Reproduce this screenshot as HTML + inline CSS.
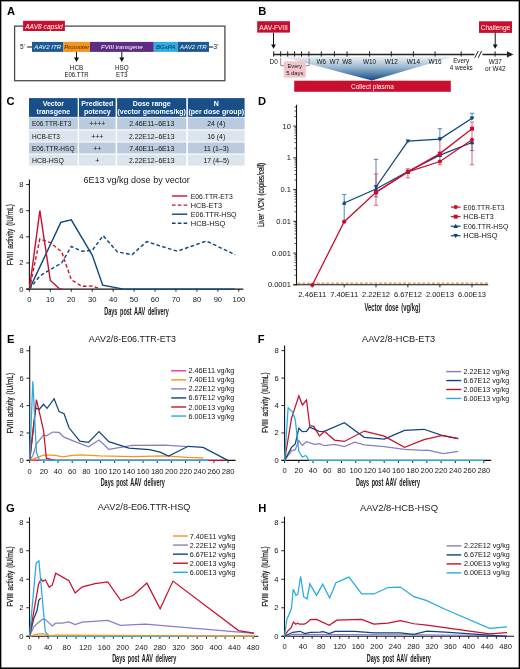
<!DOCTYPE html>
<html><head><meta charset="utf-8"><style>
html,body{margin:0;padding:0;background:#fff;}
body{width:520px;height:669px;overflow:hidden;}
svg{display:block;font-family:"Liberation Sans", sans-serif;will-change:transform;}
</style></head><body>
<svg width="520" height="669" viewBox="0 0 520 669">
<rect x="0" y="0" width="520" height="669" fill="#fff"/>
<text x="7.00" y="14.70" font-size="11.2" text-anchor="start" fill="#000" font-weight="bold" font-style="normal" >A</text>
<text x="258.20" y="14.90" font-size="11.2" text-anchor="start" fill="#000" font-weight="bold" font-style="normal" >B</text>
<text x="6.50" y="104.90" font-size="11.2" text-anchor="start" fill="#000" font-weight="bold" font-style="normal" >C</text>
<text x="258.00" y="105.10" font-size="11.2" text-anchor="start" fill="#000" font-weight="bold" font-style="normal" >D</text>
<text x="6.90" y="342.60" font-size="11.2" text-anchor="start" fill="#000" font-weight="bold" font-style="normal" >E</text>
<text x="257.80" y="342.60" font-size="11.2" text-anchor="start" fill="#000" font-weight="bold" font-style="normal" >F</text>
<text x="6.00" y="511.70" font-size="11.2" text-anchor="start" fill="#000" font-weight="bold" font-style="normal" >G</text>
<text x="258.30" y="511.70" font-size="11.2" text-anchor="start" fill="#000" font-weight="bold" font-style="normal" >H</text>
<rect x="14.6" y="26.1" width="210.3" height="54.6" fill="none" stroke="#4d4d4d" stroke-width="1.3"/>
<rect x="23.10" y="20.80" width="41.80" height="10.20" fill="#c8102e" />
<text x="44.00" y="28.60" font-size="6.6" text-anchor="middle" fill="#fff" font-weight="normal" font-style="italic" textLength="37.6" lengthAdjust="spacingAndGlyphs" >AAV8 capsid</text>
<rect x="32.00" y="41.90" width="31.40" height="10.00" fill="#1d5a94" />
<text x="47.70" y="49.30" font-size="6.1" text-anchor="middle" fill="#fff" font-weight="normal" font-style="italic" >AAV2 ITR</text>
<rect x="63.40" y="41.90" width="26.60" height="10.00" fill="#f7941d" />
<text x="76.70" y="49.30" font-size="6.1" text-anchor="middle" fill="#3a2a10" font-weight="normal" font-style="italic" >Promoter</text>
<rect x="90.00" y="41.90" width="63.80" height="10.00" fill="#5c2d82" />
<text x="121.90" y="49.30" font-size="6.1" text-anchor="middle" fill="#fff" font-weight="normal" font-style="italic" >FVIII transgene</text>
<rect x="153.80" y="41.90" width="23.90" height="10.00" fill="#2eaee3" />
<text x="165.75" y="49.30" font-size="6.1" text-anchor="middle" fill="#0c2a48" font-weight="normal" font-style="italic" >BGsPA</text>
<rect x="177.70" y="41.90" width="31.30" height="10.00" fill="#1d5a94" />
<text x="193.35" y="49.30" font-size="6.1" text-anchor="middle" fill="#fff" font-weight="normal" font-style="italic" >AAV2 ITR</text>
<line x1="27.20" y1="47.00" x2="32.00" y2="47.00" stroke="#333" stroke-width="1.2" />
<line x1="209.00" y1="47.00" x2="213.30" y2="47.00" stroke="#333" stroke-width="1.2" />
<text x="20.00" y="49.30" font-size="6.4" text-anchor="start" fill="#141414" font-weight="normal" font-style="normal" >5'</text>
<text x="213.60" y="49.30" font-size="6.4" text-anchor="start" fill="#141414" font-weight="normal" font-style="normal" >3'</text>
<line x1="76.50" y1="52.00" x2="76.50" y2="58.50" stroke="#111" stroke-width="1" />
<polygon points="74.00,57.6 79.00,57.6 76.50,62" fill="#111"/>
<line x1="121.80" y1="52.00" x2="121.80" y2="58.50" stroke="#111" stroke-width="1" />
<polygon points="119.30,57.6 124.30,57.6 121.80,62" fill="#111"/>
<text x="76.50" y="69.60" font-size="6.3" text-anchor="middle" fill="#141414" font-weight="normal" font-style="normal" >HCB</text>
<text x="76.50" y="76.60" font-size="6.3" text-anchor="middle" fill="#141414" font-weight="normal" font-style="normal" textLength="23.9" lengthAdjust="spacingAndGlyphs" >E06.TTR</text>
<text x="121.80" y="69.60" font-size="6.3" text-anchor="middle" fill="#141414" font-weight="normal" font-style="normal" >HSQ</text>
<text x="121.80" y="76.60" font-size="6.3" text-anchor="middle" fill="#141414" font-weight="normal" font-style="normal" >ET3</text>
<defs><linearGradient id="tri" x1="0" y1="0" x2="0" y2="1"><stop offset="0" stop-color="#eef3f8"/><stop offset="0.45" stop-color="#9ab8d2"/><stop offset="1" stop-color="#0d4a82"/></linearGradient></defs>
<polygon points="281,56.4 454,56.4 372,80.6" fill="url(#tri)"/>
<rect x="257.20" y="21.20" width="32.80" height="11.40" fill="#c8102e" />
<text x="273.60" y="29.50" font-size="6.6" text-anchor="middle" fill="#fff" font-weight="normal" font-style="normal" textLength="28.5" lengthAdjust="spacingAndGlyphs" >AAV-FVIII</text>
<rect x="479.00" y="21.30" width="33.00" height="11.60" fill="#c8102e" />
<text x="495.50" y="29.60" font-size="6.8" text-anchor="middle" fill="#fff" font-weight="normal" font-style="normal" textLength="29.5" lengthAdjust="spacingAndGlyphs" >Challenge</text>
<line x1="273.50" y1="32.60" x2="273.50" y2="45.00" stroke="#111" stroke-width="1" />
<polygon points="271.10,44.5 275.90,44.5 273.50,48.8" fill="#111"/>
<line x1="495.20" y1="32.60" x2="495.20" y2="45.00" stroke="#111" stroke-width="1" />
<polygon points="492.80,44.5 497.60,44.5 495.20,48.8" fill="#111"/>
<line x1="273.00" y1="54.40" x2="508.00" y2="54.40" stroke="#222" stroke-width="1.5" />
<polygon points="507,51.2 513.5,54.4 507,57.6" fill="#222"/>
<rect x="474.50" y="50.00" width="8.00" height="9.00" fill="#fff" />
<line x1="474.80" y1="57.80" x2="478.20" y2="51.00" stroke="#222" stroke-width="1" />
<line x1="478.20" y1="57.80" x2="481.60" y2="51.00" stroke="#222" stroke-width="1" />
<line x1="273.70" y1="51.30" x2="273.70" y2="56.60" stroke="#222" stroke-width="1" />
<line x1="280.70" y1="51.30" x2="280.70" y2="56.60" stroke="#222" stroke-width="1" />
<line x1="287.70" y1="51.30" x2="287.70" y2="56.60" stroke="#222" stroke-width="1" />
<line x1="294.60" y1="51.30" x2="294.60" y2="56.60" stroke="#222" stroke-width="1" />
<line x1="301.50" y1="51.30" x2="301.50" y2="56.60" stroke="#222" stroke-width="1" />
<line x1="308.90" y1="51.30" x2="308.90" y2="56.60" stroke="#222" stroke-width="1" />
<line x1="321.30" y1="51.30" x2="321.30" y2="56.60" stroke="#222" stroke-width="1" />
<line x1="334.40" y1="51.30" x2="334.40" y2="56.60" stroke="#222" stroke-width="1" />
<line x1="347.10" y1="51.30" x2="347.10" y2="56.60" stroke="#222" stroke-width="1" />
<line x1="369.60" y1="51.30" x2="369.60" y2="56.60" stroke="#222" stroke-width="1" />
<line x1="391.30" y1="51.30" x2="391.30" y2="56.60" stroke="#222" stroke-width="1" />
<line x1="413.40" y1="51.30" x2="413.40" y2="56.60" stroke="#222" stroke-width="1" />
<line x1="435.10" y1="51.30" x2="435.10" y2="56.60" stroke="#222" stroke-width="1" />
<line x1="461.20" y1="51.30" x2="461.20" y2="56.60" stroke="#222" stroke-width="1" />
<line x1="495.10" y1="51.30" x2="495.10" y2="56.60" stroke="#222" stroke-width="1" />
<text x="273.70" y="63.50" font-size="6.4" text-anchor="middle" fill="#141414" font-weight="normal" font-style="normal" >D0</text>
<text x="321.30" y="63.50" font-size="6.4" text-anchor="middle" fill="#141414" font-weight="normal" font-style="normal" >W6</text>
<text x="334.40" y="63.50" font-size="6.4" text-anchor="middle" fill="#141414" font-weight="normal" font-style="normal" >W7</text>
<text x="347.10" y="63.50" font-size="6.4" text-anchor="middle" fill="#141414" font-weight="normal" font-style="normal" >W8</text>
<text x="369.60" y="63.50" font-size="6.4" text-anchor="middle" fill="#141414" font-weight="normal" font-style="normal" >W10</text>
<text x="391.30" y="63.50" font-size="6.4" text-anchor="middle" fill="#141414" font-weight="normal" font-style="normal" >W12</text>
<text x="413.40" y="63.50" font-size="6.4" text-anchor="middle" fill="#141414" font-weight="normal" font-style="normal" >W14</text>
<text x="435.10" y="63.50" font-size="6.4" text-anchor="middle" fill="#141414" font-weight="normal" font-style="normal" >W16</text>
<text x="461.20" y="62.60" font-size="6.3" text-anchor="middle" fill="#141414" font-weight="normal" font-style="normal" >Every</text>
<text x="461.20" y="69.60" font-size="6.3" text-anchor="middle" fill="#141414" font-weight="normal" font-style="normal" >4 weeks</text>
<text x="495.30" y="63.60" font-size="6.4" text-anchor="middle" fill="#141414" font-weight="normal" font-style="normal" >W37</text>
<text x="495.30" y="70.50" font-size="6.4" text-anchor="middle" fill="#141414" font-weight="normal" font-style="normal" >or W42</text>
<path d="M280.7,58 V65.6 H309.2 V58" fill="none" stroke="#8c8c8c" stroke-width="1"/>
<rect x="283.80" y="61.30" width="22.00" height="16.40" fill="#f2c5cb" />
<text x="294.80" y="67.90" font-size="6.1" text-anchor="middle" fill="#141414" font-weight="normal" font-style="normal" textLength="14.4" lengthAdjust="spacingAndGlyphs" >Every</text>
<text x="294.80" y="75.10" font-size="6.1" text-anchor="middle" fill="#141414" font-weight="normal" font-style="normal" textLength="17.3" lengthAdjust="spacingAndGlyphs" >5 days</text>
<rect x="294.20" y="80.70" width="156.60" height="11.10" fill="#c8102e" />
<text x="372.40" y="89.00" font-size="7.4" text-anchor="middle" fill="#fff" font-weight="normal" font-style="normal" textLength="42.7" lengthAdjust="spacingAndGlyphs" >Collect plasma</text>
<rect x="29.00" y="98.10" width="48.70" height="18.80" fill="#184f88" />
<rect x="79.00" y="98.10" width="36.60" height="18.80" fill="#184f88" />
<rect x="117.10" y="98.10" width="69.20" height="18.80" fill="#184f88" />
<rect x="187.90" y="98.10" width="56.70" height="18.80" fill="#184f88" />
<rect x="29.00" y="117.50" width="48.70" height="11.80" fill="#b9cbdc" />
<rect x="79.00" y="117.50" width="36.60" height="11.80" fill="#b9cbdc" />
<rect x="117.10" y="117.50" width="69.20" height="11.80" fill="#b9cbdc" />
<rect x="187.90" y="117.50" width="56.70" height="11.80" fill="#b9cbdc" />
<rect x="29.00" y="130.40" width="48.70" height="11.10" fill="#dce5ee" />
<rect x="79.00" y="130.40" width="36.60" height="11.10" fill="#dce5ee" />
<rect x="117.10" y="130.40" width="69.20" height="11.10" fill="#dce5ee" />
<rect x="187.90" y="130.40" width="56.70" height="11.10" fill="#dce5ee" />
<rect x="29.00" y="142.50" width="48.70" height="11.00" fill="#b9cbdc" />
<rect x="79.00" y="142.50" width="36.60" height="11.00" fill="#b9cbdc" />
<rect x="117.10" y="142.50" width="69.20" height="11.00" fill="#b9cbdc" />
<rect x="187.90" y="142.50" width="56.70" height="11.00" fill="#b9cbdc" />
<rect x="29.00" y="154.60" width="48.70" height="11.00" fill="#dce5ee" />
<rect x="79.00" y="154.60" width="36.60" height="11.00" fill="#dce5ee" />
<rect x="117.10" y="154.60" width="69.20" height="11.00" fill="#dce5ee" />
<rect x="187.90" y="154.60" width="56.70" height="11.00" fill="#dce5ee" />
<text x="53.35" y="106.20" font-size="7" text-anchor="middle" fill="#fff" font-weight="bold" font-style="normal" >Vector</text>
<text x="53.35" y="114.30" font-size="7" text-anchor="middle" fill="#fff" font-weight="bold" font-style="normal" >transgene</text>
<text x="97.30" y="106.20" font-size="7" text-anchor="middle" fill="#fff" font-weight="bold" font-style="normal" >Predicted</text>
<text x="97.30" y="114.30" font-size="7" text-anchor="middle" fill="#fff" font-weight="bold" font-style="normal" >potency</text>
<text x="151.70" y="106.20" font-size="7" text-anchor="middle" fill="#fff" font-weight="bold" font-style="normal" >Dose range</text>
<text x="151.70" y="114.30" font-size="7" text-anchor="middle" fill="#fff" font-weight="bold" font-style="normal" >(vector genomes/kg)</text>
<text x="216.25" y="106.20" font-size="7" text-anchor="middle" fill="#fff" font-weight="bold" font-style="normal" >N</text>
<text x="216.25" y="114.30" font-size="7" text-anchor="middle" fill="#fff" font-weight="bold" font-style="normal" >(per dose group)</text>
<text x="32.00" y="126.00" font-size="7.0" text-anchor="start" fill="#141414" font-weight="normal" font-style="normal" textLength="39.3" lengthAdjust="spacingAndGlyphs" >E06.TTR-ET3</text>
<text x="97.30" y="126.00" font-size="6.9" text-anchor="middle" fill="#141414" font-weight="normal" font-style="normal" >++++</text>
<text x="151.70" y="126.00" font-size="6.9" text-anchor="middle" fill="#141414" font-weight="normal" font-style="normal" >2.46E11–6E13</text>
<text x="216.25" y="126.00" font-size="6.9" text-anchor="middle" fill="#141414" font-weight="normal" font-style="normal" >24 (4)</text>
<text x="32.00" y="138.55" font-size="7.0" text-anchor="start" fill="#141414" font-weight="normal" font-style="normal" textLength="28" lengthAdjust="spacingAndGlyphs" >HCB-ET3</text>
<text x="97.30" y="138.55" font-size="6.9" text-anchor="middle" fill="#141414" font-weight="normal" font-style="normal" >+++</text>
<text x="151.70" y="138.55" font-size="6.9" text-anchor="middle" fill="#141414" font-weight="normal" font-style="normal" >2.22E12–6E13</text>
<text x="216.25" y="138.55" font-size="6.9" text-anchor="middle" fill="#141414" font-weight="normal" font-style="normal" >16 (4)</text>
<text x="32.00" y="150.60" font-size="7.0" text-anchor="start" fill="#141414" font-weight="normal" font-style="normal" textLength="42.5" lengthAdjust="spacingAndGlyphs" >E06.TTR-HSQ</text>
<text x="97.30" y="150.60" font-size="6.9" text-anchor="middle" fill="#141414" font-weight="normal" font-style="normal" >++</text>
<text x="151.70" y="150.60" font-size="6.9" text-anchor="middle" fill="#141414" font-weight="normal" font-style="normal" >7.40E11–6E13</text>
<text x="216.25" y="150.60" font-size="6.9" text-anchor="middle" fill="#141414" font-weight="normal" font-style="normal" >11 (1–3)</text>
<text x="32.00" y="162.70" font-size="7.0" text-anchor="start" fill="#141414" font-weight="normal" font-style="normal" textLength="31.8" lengthAdjust="spacingAndGlyphs" >HCB-HSQ</text>
<text x="97.30" y="162.70" font-size="6.9" text-anchor="middle" fill="#141414" font-weight="normal" font-style="normal" >+</text>
<text x="151.70" y="162.70" font-size="6.9" text-anchor="middle" fill="#141414" font-weight="normal" font-style="normal" >2.22E12–6E13</text>
<text x="216.25" y="162.70" font-size="6.9" text-anchor="middle" fill="#141414" font-weight="normal" font-style="normal" >17 (4–5)</text>
<line x1="29.40" y1="179.50" x2="29.40" y2="289.60" stroke="#111" stroke-width="1.1" />
<line x1="26.20" y1="289.10" x2="243.30" y2="289.10" stroke="#111" stroke-width="1.1" />
<line x1="29.40" y1="289.10" x2="29.40" y2="291.70" stroke="#111" stroke-width="0.9" />
<text x="29.40" y="302.10" font-size="7.6" text-anchor="middle" fill="#141414" font-weight="normal" font-style="normal" >0</text>
<line x1="50.34" y1="289.10" x2="50.34" y2="291.70" stroke="#111" stroke-width="0.9" />
<text x="50.34" y="302.10" font-size="7.6" text-anchor="middle" fill="#141414" font-weight="normal" font-style="normal" >10</text>
<line x1="71.28" y1="289.10" x2="71.28" y2="291.70" stroke="#111" stroke-width="0.9" />
<text x="71.28" y="302.10" font-size="7.6" text-anchor="middle" fill="#141414" font-weight="normal" font-style="normal" >20</text>
<line x1="92.22" y1="289.10" x2="92.22" y2="291.70" stroke="#111" stroke-width="0.9" />
<text x="92.22" y="302.10" font-size="7.6" text-anchor="middle" fill="#141414" font-weight="normal" font-style="normal" >30</text>
<line x1="113.16" y1="289.10" x2="113.16" y2="291.70" stroke="#111" stroke-width="0.9" />
<text x="113.16" y="302.10" font-size="7.6" text-anchor="middle" fill="#141414" font-weight="normal" font-style="normal" >40</text>
<line x1="134.10" y1="289.10" x2="134.10" y2="291.70" stroke="#111" stroke-width="0.9" />
<text x="134.10" y="302.10" font-size="7.6" text-anchor="middle" fill="#141414" font-weight="normal" font-style="normal" >50</text>
<line x1="155.04" y1="289.10" x2="155.04" y2="291.70" stroke="#111" stroke-width="0.9" />
<text x="155.04" y="302.10" font-size="7.6" text-anchor="middle" fill="#141414" font-weight="normal" font-style="normal" >60</text>
<line x1="175.98" y1="289.10" x2="175.98" y2="291.70" stroke="#111" stroke-width="0.9" />
<text x="175.98" y="302.10" font-size="7.6" text-anchor="middle" fill="#141414" font-weight="normal" font-style="normal" >70</text>
<line x1="196.92" y1="289.10" x2="196.92" y2="291.70" stroke="#111" stroke-width="0.9" />
<text x="196.92" y="302.10" font-size="7.6" text-anchor="middle" fill="#141414" font-weight="normal" font-style="normal" >80</text>
<line x1="217.86" y1="289.10" x2="217.86" y2="291.70" stroke="#111" stroke-width="0.9" />
<text x="217.86" y="302.10" font-size="7.6" text-anchor="middle" fill="#141414" font-weight="normal" font-style="normal" >90</text>
<line x1="238.80" y1="289.10" x2="238.80" y2="291.70" stroke="#111" stroke-width="0.9" />
<text x="238.80" y="302.10" font-size="7.6" text-anchor="middle" fill="#141414" font-weight="normal" font-style="normal" >100</text>
<line x1="26.20" y1="289.10" x2="29.40" y2="289.10" stroke="#111" stroke-width="0.9" />
<text x="23.50" y="291.60" font-size="7.6" text-anchor="end" fill="#141414" font-weight="normal" font-style="normal" >0</text>
<line x1="26.20" y1="262.96" x2="29.40" y2="262.96" stroke="#111" stroke-width="0.9" />
<text x="23.50" y="265.46" font-size="7.6" text-anchor="end" fill="#141414" font-weight="normal" font-style="normal" >2</text>
<line x1="26.20" y1="236.82" x2="29.40" y2="236.82" stroke="#111" stroke-width="0.9" />
<text x="23.50" y="239.32" font-size="7.6" text-anchor="end" fill="#141414" font-weight="normal" font-style="normal" >4</text>
<line x1="26.20" y1="210.68" x2="29.40" y2="210.68" stroke="#111" stroke-width="0.9" />
<text x="23.50" y="213.18" font-size="7.6" text-anchor="end" fill="#141414" font-weight="normal" font-style="normal" >6</text>
<line x1="26.20" y1="184.54" x2="29.40" y2="184.54" stroke="#111" stroke-width="0.9" />
<text x="23.50" y="187.04" font-size="7.6" text-anchor="end" fill="#141414" font-weight="normal" font-style="normal" >8</text>
<text x="136.60" y="182.60" font-size="9" text-anchor="middle" fill="#222" font-weight="normal" font-style="normal" textLength="106.3" lengthAdjust="spacingAndGlyphs" >6E13 vg/kg dose by vector</text>
<text transform="translate(13.20,234.70) rotate(-90) scale(0.7102,1)" x="0" y="0" font-size="9.2" word-spacing="1.5" text-anchor="middle" fill="#1a1a1a" stroke="#1a1a1a" stroke-width="0.22">FVIII activity (IU/mL)</text>
<text transform="translate(136.50,315.40) scale(0.5411,1)" x="0" y="0" font-size="10.2" font-weight="bold" word-spacing="2.0" text-anchor="middle" fill="#1a1a1a">Days post AAV delivery</text>
<polyline points="29.40,289.10 39.87,276.03 50.34,269.50 61.65,262.96 71.28,246.49 81.75,251.20 92.22,250.41 103.11,235.64 117.35,251.85 132.01,254.73 146.66,241.66 177.24,251.20 206.34,241.00 235.24,254.73" fill="none" stroke="#0d467d" stroke-width="1.4" stroke-linejoin="miter" stroke-miterlimit="3" stroke-dasharray="3.6,2.4"/>
<polyline points="29.40,289.10 60.81,222.44 71.28,219.83 92.22,255.12 102.69,285.18 123.63,289.10 234.61,289.10" fill="none" stroke="#0d467d" stroke-width="1.4" stroke-linejoin="miter" stroke-miterlimit="3" />
<polyline points="29.40,289.10 39.87,238.91 50.34,242.70 61.65,251.72 71.28,279.69 81.75,286.36 92.22,285.96 100.60,289.10" fill="none" stroke="#c8102e" stroke-width="1.4" stroke-linejoin="miter" stroke-miterlimit="3" stroke-dasharray="3.6,2.4"/>
<polyline points="29.40,289.10 39.87,210.68 50.34,280.47 59.76,289.10 62.90,289.10" fill="none" stroke="#c8102e" stroke-width="1.4" stroke-linejoin="miter" stroke-miterlimit="3" />
<line x1="172.00" y1="196.00" x2="187.30" y2="196.00" stroke="#c8102e" stroke-width="1.4" />
<text x="190.80" y="198.70" font-size="7.5" text-anchor="start" fill="#141414" font-weight="normal" font-style="normal" textLength="41.9" lengthAdjust="spacingAndGlyphs" >E06.TTR-ET3</text>
<line x1="172.00" y1="205.10" x2="187.30" y2="205.10" stroke="#c8102e" stroke-width="1.4" stroke-dasharray="3.6,2.2"/>
<text x="190.80" y="207.80" font-size="7.5" text-anchor="start" fill="#141414" font-weight="normal" font-style="normal" textLength="31.2" lengthAdjust="spacingAndGlyphs" >HCB-ET3</text>
<line x1="172.00" y1="214.20" x2="187.30" y2="214.20" stroke="#0d467d" stroke-width="1.4" />
<text x="190.80" y="216.90" font-size="7.5" text-anchor="start" fill="#141414" font-weight="normal" font-style="normal" textLength="45.8" lengthAdjust="spacingAndGlyphs" >E06.TTR-HSQ</text>
<line x1="172.00" y1="223.30" x2="187.30" y2="223.30" stroke="#0d467d" stroke-width="1.4" stroke-dasharray="3.6,2.2"/>
<text x="190.80" y="226.00" font-size="7.5" text-anchor="start" fill="#141414" font-weight="normal" font-style="normal" textLength="34.6" lengthAdjust="spacingAndGlyphs" >HCB-HSQ</text>
<line x1="296.50" y1="104.80" x2="296.50" y2="285.30" stroke="#111" stroke-width="1.1" />
<line x1="293.50" y1="284.80" x2="488.20" y2="284.80" stroke="#111" stroke-width="1.1" />
<line x1="293.30" y1="126.10" x2="296.50" y2="126.10" stroke="#111" stroke-width="0.9" />
<text x="290.90" y="128.70" font-size="7.5" text-anchor="end" fill="#111" font-weight="normal" font-style="normal" >10</text>
<line x1="293.30" y1="157.84" x2="296.50" y2="157.84" stroke="#111" stroke-width="0.9" />
<text x="290.90" y="160.44" font-size="7.5" text-anchor="end" fill="#111" font-weight="normal" font-style="normal" >1</text>
<line x1="293.30" y1="189.58" x2="296.50" y2="189.58" stroke="#111" stroke-width="0.9" />
<text x="290.90" y="192.18" font-size="7.5" text-anchor="end" fill="#111" font-weight="normal" font-style="normal" >0.1</text>
<line x1="293.30" y1="221.32" x2="296.50" y2="221.32" stroke="#111" stroke-width="0.9" />
<text x="290.90" y="223.92" font-size="7.5" text-anchor="end" fill="#111" font-weight="normal" font-style="normal" >0.01</text>
<line x1="293.30" y1="253.06" x2="296.50" y2="253.06" stroke="#111" stroke-width="0.9" />
<text x="290.90" y="255.66" font-size="7.5" text-anchor="end" fill="#111" font-weight="normal" font-style="normal" >0.001</text>
<line x1="293.30" y1="284.80" x2="296.50" y2="284.80" stroke="#111" stroke-width="0.9" />
<text x="290.90" y="287.40" font-size="7.5" text-anchor="end" fill="#111" font-weight="normal" font-style="normal" >0.0001</text>
<line x1="294.50" y1="275.25" x2="296.50" y2="275.25" stroke="#111" stroke-width="0.7" />
<line x1="294.50" y1="269.66" x2="296.50" y2="269.66" stroke="#111" stroke-width="0.7" />
<line x1="294.50" y1="265.69" x2="296.50" y2="265.69" stroke="#111" stroke-width="0.7" />
<line x1="294.50" y1="262.61" x2="296.50" y2="262.61" stroke="#111" stroke-width="0.7" />
<line x1="294.50" y1="260.10" x2="296.50" y2="260.10" stroke="#111" stroke-width="0.7" />
<line x1="294.50" y1="257.98" x2="296.50" y2="257.98" stroke="#111" stroke-width="0.7" />
<line x1="294.50" y1="256.14" x2="296.50" y2="256.14" stroke="#111" stroke-width="0.7" />
<line x1="294.50" y1="254.51" x2="296.50" y2="254.51" stroke="#111" stroke-width="0.7" />
<line x1="294.50" y1="243.51" x2="296.50" y2="243.51" stroke="#111" stroke-width="0.7" />
<line x1="294.50" y1="237.92" x2="296.50" y2="237.92" stroke="#111" stroke-width="0.7" />
<line x1="294.50" y1="233.95" x2="296.50" y2="233.95" stroke="#111" stroke-width="0.7" />
<line x1="294.50" y1="230.87" x2="296.50" y2="230.87" stroke="#111" stroke-width="0.7" />
<line x1="294.50" y1="228.36" x2="296.50" y2="228.36" stroke="#111" stroke-width="0.7" />
<line x1="294.50" y1="226.24" x2="296.50" y2="226.24" stroke="#111" stroke-width="0.7" />
<line x1="294.50" y1="224.40" x2="296.50" y2="224.40" stroke="#111" stroke-width="0.7" />
<line x1="294.50" y1="222.77" x2="296.50" y2="222.77" stroke="#111" stroke-width="0.7" />
<line x1="294.50" y1="211.77" x2="296.50" y2="211.77" stroke="#111" stroke-width="0.7" />
<line x1="294.50" y1="206.18" x2="296.50" y2="206.18" stroke="#111" stroke-width="0.7" />
<line x1="294.50" y1="202.21" x2="296.50" y2="202.21" stroke="#111" stroke-width="0.7" />
<line x1="294.50" y1="199.13" x2="296.50" y2="199.13" stroke="#111" stroke-width="0.7" />
<line x1="294.50" y1="196.62" x2="296.50" y2="196.62" stroke="#111" stroke-width="0.7" />
<line x1="294.50" y1="194.50" x2="296.50" y2="194.50" stroke="#111" stroke-width="0.7" />
<line x1="294.50" y1="192.66" x2="296.50" y2="192.66" stroke="#111" stroke-width="0.7" />
<line x1="294.50" y1="191.03" x2="296.50" y2="191.03" stroke="#111" stroke-width="0.7" />
<line x1="294.50" y1="180.03" x2="296.50" y2="180.03" stroke="#111" stroke-width="0.7" />
<line x1="294.50" y1="174.44" x2="296.50" y2="174.44" stroke="#111" stroke-width="0.7" />
<line x1="294.50" y1="170.47" x2="296.50" y2="170.47" stroke="#111" stroke-width="0.7" />
<line x1="294.50" y1="167.39" x2="296.50" y2="167.39" stroke="#111" stroke-width="0.7" />
<line x1="294.50" y1="164.88" x2="296.50" y2="164.88" stroke="#111" stroke-width="0.7" />
<line x1="294.50" y1="162.76" x2="296.50" y2="162.76" stroke="#111" stroke-width="0.7" />
<line x1="294.50" y1="160.92" x2="296.50" y2="160.92" stroke="#111" stroke-width="0.7" />
<line x1="294.50" y1="159.29" x2="296.50" y2="159.29" stroke="#111" stroke-width="0.7" />
<line x1="294.50" y1="148.29" x2="296.50" y2="148.29" stroke="#111" stroke-width="0.7" />
<line x1="294.50" y1="142.70" x2="296.50" y2="142.70" stroke="#111" stroke-width="0.7" />
<line x1="294.50" y1="138.73" x2="296.50" y2="138.73" stroke="#111" stroke-width="0.7" />
<line x1="294.50" y1="135.65" x2="296.50" y2="135.65" stroke="#111" stroke-width="0.7" />
<line x1="294.50" y1="133.14" x2="296.50" y2="133.14" stroke="#111" stroke-width="0.7" />
<line x1="294.50" y1="131.02" x2="296.50" y2="131.02" stroke="#111" stroke-width="0.7" />
<line x1="294.50" y1="129.18" x2="296.50" y2="129.18" stroke="#111" stroke-width="0.7" />
<line x1="294.50" y1="127.55" x2="296.50" y2="127.55" stroke="#111" stroke-width="0.7" />
<line x1="294.50" y1="116.55" x2="296.50" y2="116.55" stroke="#111" stroke-width="0.7" />
<line x1="294.50" y1="110.96" x2="296.50" y2="110.96" stroke="#111" stroke-width="0.7" />
<line x1="294.50" y1="106.99" x2="296.50" y2="106.99" stroke="#111" stroke-width="0.7" />
<line x1="312.30" y1="284.80" x2="312.30" y2="287.40" stroke="#111" stroke-width="0.9" />
<text x="312.30" y="296.90" font-size="7.1" text-anchor="middle" fill="#141414" font-weight="normal" font-style="normal" textLength="28" lengthAdjust="spacingAndGlyphs" >2.46E11</text>
<line x1="344.20" y1="284.80" x2="344.20" y2="287.40" stroke="#111" stroke-width="0.9" />
<text x="344.20" y="296.90" font-size="7.1" text-anchor="middle" fill="#141414" font-weight="normal" font-style="normal" textLength="28" lengthAdjust="spacingAndGlyphs" >7.40E11</text>
<line x1="376.00" y1="284.80" x2="376.00" y2="287.40" stroke="#111" stroke-width="0.9" />
<text x="376.00" y="296.90" font-size="7.1" text-anchor="middle" fill="#141414" font-weight="normal" font-style="normal" textLength="28" lengthAdjust="spacingAndGlyphs" >2.22E12</text>
<line x1="407.90" y1="284.80" x2="407.90" y2="287.40" stroke="#111" stroke-width="0.9" />
<text x="407.90" y="296.90" font-size="7.1" text-anchor="middle" fill="#141414" font-weight="normal" font-style="normal" textLength="28" lengthAdjust="spacingAndGlyphs" >6.67E12</text>
<line x1="439.90" y1="284.80" x2="439.90" y2="287.40" stroke="#111" stroke-width="0.9" />
<text x="439.90" y="296.90" font-size="7.1" text-anchor="middle" fill="#141414" font-weight="normal" font-style="normal" textLength="28" lengthAdjust="spacingAndGlyphs" >2.00E13</text>
<line x1="472.00" y1="284.80" x2="472.00" y2="287.40" stroke="#111" stroke-width="0.9" />
<text x="472.00" y="296.90" font-size="7.1" text-anchor="middle" fill="#141414" font-weight="normal" font-style="normal" textLength="28" lengthAdjust="spacingAndGlyphs" >6.00E13</text>
<line x1="297.50" y1="283.20" x2="488.00" y2="283.20" stroke="#e3a56b" stroke-width="1.6" stroke-dasharray="3,1.8"/>
<text transform="translate(264.20,195.00) rotate(-90) scale(0.6649,1)" x="0" y="0" font-size="9.2" word-spacing="1.5" text-anchor="middle" fill="#1a1a1a" stroke="#1a1a1a" stroke-width="0.22">Liver VCN (copies/cell)</text>
<text transform="translate(392.40,310.60) scale(0.5763,1)" x="0" y="0" font-size="10.1" font-weight="bold" word-spacing="2.0" text-anchor="middle" fill="#1a1a1a">Vector dose (vg/kg)</text>
<g stroke="#3a6fa5" stroke-width="1" opacity="0.85"><line x1="344.2" y1="194.4" x2="344.2" y2="221.7"/><line x1="342.0" y1="194.4" x2="346.4" y2="194.4"/><line x1="342.0" y1="221.7" x2="346.4" y2="221.7"/></g>
<g stroke="#3a6fa5" stroke-width="1" opacity="0.85"><line x1="376.0" y1="159.4" x2="376.0" y2="196.8"/><line x1="373.8" y1="159.4" x2="378.2" y2="159.4"/><line x1="373.8" y1="196.8" x2="378.2" y2="196.8"/></g>
<g stroke="#d24a64" stroke-width="1" opacity="0.85"><line x1="376.0" y1="174.0" x2="376.0" y2="205.3"/><line x1="373.8" y1="174.0" x2="378.2" y2="174.0"/><line x1="373.8" y1="205.3" x2="378.2" y2="205.3"/></g>
<g stroke="#d24a64" stroke-width="1" opacity="0.85"><line x1="407.9" y1="168.8" x2="407.9" y2="177.8"/><line x1="405.7" y1="168.8" x2="410.09999999999997" y2="168.8"/><line x1="405.7" y1="177.8" x2="410.09999999999997" y2="177.8"/></g>
<g stroke="#3a6fa5" stroke-width="1" opacity="0.85"><line x1="439.9" y1="128.7" x2="439.9" y2="139.5"/><line x1="437.7" y1="128.7" x2="442.09999999999997" y2="128.7"/><line x1="437.7" y1="139.5" x2="442.09999999999997" y2="139.5"/></g>
<g stroke="#d24a64" stroke-width="1" opacity="0.85"><line x1="439.9" y1="139.6" x2="439.9" y2="164.8"/><line x1="437.7" y1="139.6" x2="442.09999999999997" y2="139.6"/><line x1="437.7" y1="164.8" x2="442.09999999999997" y2="164.8"/></g>
<g stroke="#3a6fa5" stroke-width="1" opacity="0.85"><line x1="472.0" y1="113.3" x2="472.0" y2="118.3"/><line x1="469.8" y1="113.3" x2="474.2" y2="113.3"/><line x1="469.8" y1="118.3" x2="474.2" y2="118.3"/></g>
<g stroke="#3a6fa5" stroke-width="1" opacity="0.85"><line x1="472.0" y1="142.2" x2="472.0" y2="150.6"/><line x1="469.8" y1="142.2" x2="474.2" y2="142.2"/><line x1="469.8" y1="150.6" x2="474.2" y2="150.6"/></g>
<g stroke="#d24a64" stroke-width="1" opacity="0.85"><line x1="472.0" y1="122.1" x2="472.0" y2="164.8"/><line x1="469.8" y1="122.1" x2="474.2" y2="122.1"/><line x1="469.8" y1="164.8" x2="474.2" y2="164.8"/></g>
<polyline points="344.20,203.00 376.00,189.00 407.90,171.50 439.90,155.20 472.00,142.50" fill="none" stroke="#0d467d" stroke-width="1.3" stroke-linejoin="miter" stroke-miterlimit="3" />
<polygon points="341.90,204.80 346.50,204.80 344.20,200.60" fill="#0d467d"/>
<polygon points="373.70,190.80 378.30,190.80 376.00,186.60" fill="#0d467d"/>
<polygon points="405.60,173.30 410.20,173.30 407.90,169.10" fill="#0d467d"/>
<polygon points="437.60,157.00 442.20,157.00 439.90,152.80" fill="#0d467d"/>
<polygon points="469.70,144.30 474.30,144.30 472.00,140.10" fill="#0d467d"/>
<polyline points="376.00,187.00 407.90,141.20 439.90,139.10 472.00,118.30" fill="none" stroke="#0d467d" stroke-width="1.3" stroke-linejoin="miter" stroke-miterlimit="3" />
<polygon points="373.70,185.20 378.30,185.20 376.00,189.40" fill="#0d467d"/>
<polygon points="405.60,139.40 410.20,139.40 407.90,143.60" fill="#0d467d"/>
<polygon points="437.60,137.30 442.20,137.30 439.90,141.50" fill="#0d467d"/>
<polygon points="469.70,116.50 474.30,116.50 472.00,120.70" fill="#0d467d"/>
<polyline points="312.30,285.00 344.20,221.70 376.00,192.30 407.90,171.90 439.90,161.50 472.00,139.80" fill="none" stroke="#c8102e" stroke-width="1.3" stroke-linejoin="miter" stroke-miterlimit="3" />
<circle cx="312.30" cy="285.00" r="2.1" fill="#c8102e"/>
<circle cx="344.20" cy="221.70" r="2.1" fill="#c8102e"/>
<circle cx="376.00" cy="192.30" r="2.1" fill="#c8102e"/>
<circle cx="407.90" cy="171.90" r="2.1" fill="#c8102e"/>
<circle cx="439.90" cy="161.50" r="2.1" fill="#c8102e"/>
<circle cx="472.00" cy="139.80" r="2.1" fill="#c8102e"/>
<polyline points="376.00,192.30 407.90,171.90 439.90,153.60 472.00,128.70" fill="none" stroke="#c8102e" stroke-width="1.3" stroke-linejoin="miter" stroke-miterlimit="3" />
<rect x="374.00" y="190.30" width="4" height="4" fill="#c8102e"/>
<rect x="405.90" y="169.90" width="4" height="4" fill="#c8102e"/>
<rect x="437.90" y="151.60" width="4" height="4" fill="#c8102e"/>
<rect x="470.00" y="126.70" width="4" height="4" fill="#c8102e"/>
<line x1="450.80" y1="207.10" x2="460.60" y2="207.10" stroke="#c8102e" stroke-width="1.2" />
<circle cx="455.70" cy="207.10" r="2.1" fill="#c8102e"/>
<text x="463.30" y="209.70" font-size="7.2" text-anchor="start" fill="#141414" font-weight="normal" font-style="normal" textLength="41.2" lengthAdjust="spacingAndGlyphs" >E06.TTR-ET3</text>
<line x1="450.80" y1="216.65" x2="460.60" y2="216.65" stroke="#c8102e" stroke-width="1.2" />
<rect x="453.70" y="214.65" width="4" height="4" fill="#c8102e"/>
<text x="463.30" y="219.25" font-size="7.2" text-anchor="start" fill="#141414" font-weight="normal" font-style="normal" textLength="30.5" lengthAdjust="spacingAndGlyphs" >HCB-ET3</text>
<line x1="450.80" y1="226.20" x2="460.60" y2="226.20" stroke="#0d467d" stroke-width="1.2" />
<polygon points="453.40,228.00 458.00,228.00 455.70,223.80" fill="#0d467d"/>
<text x="463.30" y="228.80" font-size="7.2" text-anchor="start" fill="#141414" font-weight="normal" font-style="normal" textLength="45.1" lengthAdjust="spacingAndGlyphs" >E06.TTR-HSQ</text>
<line x1="450.80" y1="235.75" x2="460.60" y2="235.75" stroke="#0d467d" stroke-width="1.2" />
<polygon points="453.40,233.95 458.00,233.95 455.70,238.15" fill="#0d467d"/>
<text x="463.30" y="238.35" font-size="7.2" text-anchor="start" fill="#141414" font-weight="normal" font-style="normal" textLength="34.3" lengthAdjust="spacingAndGlyphs" >HCB-HSQ</text>
<line x1="29.70" y1="345.80" x2="29.70" y2="460.90" stroke="#111" stroke-width="1.1" />
<line x1="26.70" y1="460.40" x2="235.60" y2="460.40" stroke="#111" stroke-width="1.1" />
<line x1="29.70" y1="460.40" x2="29.70" y2="463.00" stroke="#111" stroke-width="0.9" />
<text x="29.70" y="473.80" font-size="7.6" text-anchor="middle" fill="#141414" font-weight="normal" font-style="normal" >0</text>
<line x1="43.87" y1="460.40" x2="43.87" y2="463.00" stroke="#111" stroke-width="0.9" />
<text x="43.87" y="473.80" font-size="7.6" text-anchor="middle" fill="#141414" font-weight="normal" font-style="normal" >20</text>
<line x1="58.04" y1="460.40" x2="58.04" y2="463.00" stroke="#111" stroke-width="0.9" />
<text x="58.04" y="473.80" font-size="7.6" text-anchor="middle" fill="#141414" font-weight="normal" font-style="normal" >40</text>
<line x1="72.21" y1="460.40" x2="72.21" y2="463.00" stroke="#111" stroke-width="0.9" />
<text x="72.21" y="473.80" font-size="7.6" text-anchor="middle" fill="#141414" font-weight="normal" font-style="normal" >60</text>
<line x1="86.38" y1="460.40" x2="86.38" y2="463.00" stroke="#111" stroke-width="0.9" />
<text x="86.38" y="473.80" font-size="7.6" text-anchor="middle" fill="#141414" font-weight="normal" font-style="normal" >80</text>
<line x1="100.55" y1="460.40" x2="100.55" y2="463.00" stroke="#111" stroke-width="0.9" />
<text x="100.55" y="473.80" font-size="7.6" text-anchor="middle" fill="#141414" font-weight="normal" font-style="normal" >100</text>
<line x1="114.72" y1="460.40" x2="114.72" y2="463.00" stroke="#111" stroke-width="0.9" />
<text x="114.72" y="473.80" font-size="7.6" text-anchor="middle" fill="#141414" font-weight="normal" font-style="normal" >120</text>
<line x1="128.89" y1="460.40" x2="128.89" y2="463.00" stroke="#111" stroke-width="0.9" />
<text x="128.89" y="473.80" font-size="7.6" text-anchor="middle" fill="#141414" font-weight="normal" font-style="normal" >140</text>
<line x1="143.06" y1="460.40" x2="143.06" y2="463.00" stroke="#111" stroke-width="0.9" />
<text x="143.06" y="473.80" font-size="7.6" text-anchor="middle" fill="#141414" font-weight="normal" font-style="normal" >160</text>
<line x1="157.23" y1="460.40" x2="157.23" y2="463.00" stroke="#111" stroke-width="0.9" />
<text x="157.23" y="473.80" font-size="7.6" text-anchor="middle" fill="#141414" font-weight="normal" font-style="normal" >180</text>
<line x1="171.40" y1="460.40" x2="171.40" y2="463.00" stroke="#111" stroke-width="0.9" />
<text x="171.40" y="473.80" font-size="7.6" text-anchor="middle" fill="#141414" font-weight="normal" font-style="normal" >200</text>
<line x1="185.57" y1="460.40" x2="185.57" y2="463.00" stroke="#111" stroke-width="0.9" />
<text x="185.57" y="473.80" font-size="7.6" text-anchor="middle" fill="#141414" font-weight="normal" font-style="normal" >220</text>
<line x1="199.74" y1="460.40" x2="199.74" y2="463.00" stroke="#111" stroke-width="0.9" />
<text x="199.74" y="473.80" font-size="7.6" text-anchor="middle" fill="#141414" font-weight="normal" font-style="normal" >240</text>
<line x1="213.91" y1="460.40" x2="213.91" y2="463.00" stroke="#111" stroke-width="0.9" />
<text x="213.91" y="473.80" font-size="7.6" text-anchor="middle" fill="#141414" font-weight="normal" font-style="normal" >260</text>
<line x1="228.08" y1="460.40" x2="228.08" y2="463.00" stroke="#111" stroke-width="0.9" />
<text x="228.08" y="473.80" font-size="7.6" text-anchor="middle" fill="#141414" font-weight="normal" font-style="normal" >280</text>
<line x1="26.50" y1="460.40" x2="29.70" y2="460.40" stroke="#111" stroke-width="0.9" />
<text x="23.80" y="462.90" font-size="7.6" text-anchor="end" fill="#141414" font-weight="normal" font-style="normal" >0</text>
<line x1="26.50" y1="433.00" x2="29.70" y2="433.00" stroke="#111" stroke-width="0.9" />
<text x="23.80" y="435.50" font-size="7.6" text-anchor="end" fill="#141414" font-weight="normal" font-style="normal" >2</text>
<line x1="26.50" y1="405.60" x2="29.70" y2="405.60" stroke="#111" stroke-width="0.9" />
<text x="23.80" y="408.10" font-size="7.6" text-anchor="end" fill="#141414" font-weight="normal" font-style="normal" >4</text>
<line x1="26.50" y1="378.20" x2="29.70" y2="378.20" stroke="#111" stroke-width="0.9" />
<text x="23.80" y="380.70" font-size="7.6" text-anchor="end" fill="#141414" font-weight="normal" font-style="normal" >6</text>
<line x1="26.50" y1="350.80" x2="29.70" y2="350.80" stroke="#111" stroke-width="0.9" />
<text x="23.80" y="353.30" font-size="7.6" text-anchor="end" fill="#141414" font-weight="normal" font-style="normal" >8</text>
<text x="132.40" y="341.70" font-size="9" text-anchor="middle" fill="#222" font-weight="normal" font-style="normal" textLength="87.2" lengthAdjust="spacingAndGlyphs" >AAV2/8-E06.TTR-ET3</text>
<text transform="translate(12.90,403.20) rotate(-90) scale(0.7009,1)" x="0" y="0" font-size="9.2" word-spacing="1.5" text-anchor="middle" fill="#1a1a1a" stroke="#1a1a1a" stroke-width="0.22">FVIII activity (IU/mL)</text>
<text transform="translate(132.70,486.00) scale(0.5378,1)" x="0" y="0" font-size="10.2" font-weight="bold" word-spacing="2.0" text-anchor="middle" fill="#1a1a1a">Days post AAV delivery</text>
<polyline points="29.70,460.40 228.08,460.40" fill="none" stroke="#c8102e" stroke-width="1.25" stroke-linejoin="miter" stroke-miterlimit="3" />
<polyline points="29.70,460.40 39.26,460.40" fill="none" stroke="#e6339a" stroke-width="1.25" stroke-linejoin="miter" stroke-miterlimit="3" />
<polyline points="29.70,460.40 43.52,455.06 53.43,455.06 63.42,456.97 72.21,455.47 80.71,454.92 100.55,455.88 132.43,456.56 165.02,455.88 187.70,457.39 203.28,457.93" fill="none" stroke="#f7941d" stroke-width="1.25" stroke-linejoin="miter" stroke-miterlimit="3" />
<polyline points="29.70,460.40 32.82,455.47 36.43,444.10 43.52,434.92 46.35,435.88 52.73,432.04 59.10,432.45 64.06,437.11 75.04,441.63 88.51,446.84 98.99,439.99 108.84,449.30 132.22,445.47 165.02,445.06 187.70,446.70" fill="none" stroke="#8a7dc4" stroke-width="1.25" stroke-linejoin="miter" stroke-miterlimit="3" />
<polyline points="29.70,460.40 35.72,408.07 39.19,409.44 43.52,404.23 47.06,408.34 54.14,398.75 59.10,411.63 64.06,413.68 69.02,427.79 79.79,441.22 88.51,442.32 98.99,431.63 108.84,441.63 128.89,448.07 149.44,449.71 160.06,452.18 168.57,456.15 188.19,446.29 203.14,447.38 227.80,460.40" fill="none" stroke="#0d467d" stroke-width="1.25" stroke-linejoin="miter" stroke-miterlimit="3" />
<polyline points="29.70,460.40 36.43,399.57 43.52,430.26 46.35,458.21 53.08,460.13 55.21,460.40" fill="none" stroke="#c8102e" stroke-width="1.25" stroke-linejoin="miter" stroke-miterlimit="3" />
<polyline points="29.70,460.40 32.82,381.21 36.43,452.59 39.62,460.40 208.24,460.40" fill="none" stroke="#27aae1" stroke-width="1.25" stroke-linejoin="miter" stroke-miterlimit="3" />
<line x1="171.20" y1="370.80" x2="186.20" y2="370.80" stroke="#e6339a" stroke-width="1.4" />
<text x="188.50" y="373.30" font-size="7.1" text-anchor="start" fill="#141414" font-weight="normal" font-style="normal" textLength="45.8" lengthAdjust="spacingAndGlyphs" >2.46E11 vg/kg</text>
<line x1="171.20" y1="379.85" x2="186.20" y2="379.85" stroke="#f7941d" stroke-width="1.4" />
<text x="188.50" y="382.35" font-size="7.1" text-anchor="start" fill="#141414" font-weight="normal" font-style="normal" textLength="45.8" lengthAdjust="spacingAndGlyphs" >7.40E11 vg/kg</text>
<line x1="171.20" y1="388.90" x2="186.20" y2="388.90" stroke="#8a7dc4" stroke-width="1.4" />
<text x="188.50" y="391.40" font-size="7.1" text-anchor="start" fill="#141414" font-weight="normal" font-style="normal" textLength="45.8" lengthAdjust="spacingAndGlyphs" >2.22E12 vg/kg</text>
<line x1="171.20" y1="397.95" x2="186.20" y2="397.95" stroke="#0d467d" stroke-width="1.4" />
<text x="188.50" y="400.45" font-size="7.1" text-anchor="start" fill="#141414" font-weight="normal" font-style="normal" textLength="45.8" lengthAdjust="spacingAndGlyphs" >6.67E12 vg/kg</text>
<line x1="171.20" y1="407.00" x2="186.20" y2="407.00" stroke="#c8102e" stroke-width="1.4" />
<text x="188.50" y="409.50" font-size="7.1" text-anchor="start" fill="#141414" font-weight="normal" font-style="normal" textLength="45.8" lengthAdjust="spacingAndGlyphs" >2.00E13 vg/kg</text>
<line x1="171.20" y1="416.05" x2="186.20" y2="416.05" stroke="#27aae1" stroke-width="1.4" />
<text x="188.50" y="418.55" font-size="7.1" text-anchor="start" fill="#141414" font-weight="normal" font-style="normal" textLength="45.8" lengthAdjust="spacingAndGlyphs" >6.00E13 vg/kg</text>
<line x1="284.60" y1="345.40" x2="284.60" y2="460.90" stroke="#111" stroke-width="1.1" />
<line x1="281.60" y1="460.40" x2="491.20" y2="460.40" stroke="#111" stroke-width="1.1" />
<line x1="284.60" y1="460.40" x2="284.60" y2="463.00" stroke="#111" stroke-width="0.9" />
<text x="284.60" y="473.30" font-size="7.6" text-anchor="middle" fill="#141414" font-weight="normal" font-style="normal" >0</text>
<line x1="298.83" y1="460.40" x2="298.83" y2="463.00" stroke="#111" stroke-width="0.9" />
<text x="298.83" y="473.30" font-size="7.6" text-anchor="middle" fill="#141414" font-weight="normal" font-style="normal" >20</text>
<line x1="313.06" y1="460.40" x2="313.06" y2="463.00" stroke="#111" stroke-width="0.9" />
<text x="313.06" y="473.30" font-size="7.6" text-anchor="middle" fill="#141414" font-weight="normal" font-style="normal" >40</text>
<line x1="327.28" y1="460.40" x2="327.28" y2="463.00" stroke="#111" stroke-width="0.9" />
<text x="327.28" y="473.30" font-size="7.6" text-anchor="middle" fill="#141414" font-weight="normal" font-style="normal" >60</text>
<line x1="341.51" y1="460.40" x2="341.51" y2="463.00" stroke="#111" stroke-width="0.9" />
<text x="341.51" y="473.30" font-size="7.6" text-anchor="middle" fill="#141414" font-weight="normal" font-style="normal" >80</text>
<line x1="355.74" y1="460.40" x2="355.74" y2="463.00" stroke="#111" stroke-width="0.9" />
<text x="355.74" y="473.30" font-size="7.6" text-anchor="middle" fill="#141414" font-weight="normal" font-style="normal" >100</text>
<line x1="369.97" y1="460.40" x2="369.97" y2="463.00" stroke="#111" stroke-width="0.9" />
<text x="369.97" y="473.30" font-size="7.6" text-anchor="middle" fill="#141414" font-weight="normal" font-style="normal" >120</text>
<line x1="384.20" y1="460.40" x2="384.20" y2="463.00" stroke="#111" stroke-width="0.9" />
<text x="384.20" y="473.30" font-size="7.6" text-anchor="middle" fill="#141414" font-weight="normal" font-style="normal" >140</text>
<line x1="398.42" y1="460.40" x2="398.42" y2="463.00" stroke="#111" stroke-width="0.9" />
<text x="398.42" y="473.30" font-size="7.6" text-anchor="middle" fill="#141414" font-weight="normal" font-style="normal" >160</text>
<line x1="412.65" y1="460.40" x2="412.65" y2="463.00" stroke="#111" stroke-width="0.9" />
<text x="412.65" y="473.30" font-size="7.6" text-anchor="middle" fill="#141414" font-weight="normal" font-style="normal" >180</text>
<line x1="426.88" y1="460.40" x2="426.88" y2="463.00" stroke="#111" stroke-width="0.9" />
<text x="426.88" y="473.30" font-size="7.6" text-anchor="middle" fill="#141414" font-weight="normal" font-style="normal" >200</text>
<line x1="441.11" y1="460.40" x2="441.11" y2="463.00" stroke="#111" stroke-width="0.9" />
<text x="441.11" y="473.30" font-size="7.6" text-anchor="middle" fill="#141414" font-weight="normal" font-style="normal" >220</text>
<line x1="455.34" y1="460.40" x2="455.34" y2="463.00" stroke="#111" stroke-width="0.9" />
<text x="455.34" y="473.30" font-size="7.6" text-anchor="middle" fill="#141414" font-weight="normal" font-style="normal" >240</text>
<line x1="469.56" y1="460.40" x2="469.56" y2="463.00" stroke="#111" stroke-width="0.9" />
<text x="469.56" y="473.30" font-size="7.6" text-anchor="middle" fill="#141414" font-weight="normal" font-style="normal" >260</text>
<line x1="483.79" y1="460.40" x2="483.79" y2="463.00" stroke="#111" stroke-width="0.9" />
<text x="483.79" y="473.30" font-size="7.6" text-anchor="middle" fill="#141414" font-weight="normal" font-style="normal" >280</text>
<line x1="281.40" y1="460.40" x2="284.60" y2="460.40" stroke="#111" stroke-width="0.9" />
<text x="278.70" y="462.90" font-size="7.6" text-anchor="end" fill="#141414" font-weight="normal" font-style="normal" >0</text>
<line x1="281.40" y1="432.96" x2="284.60" y2="432.96" stroke="#111" stroke-width="0.9" />
<text x="278.70" y="435.46" font-size="7.6" text-anchor="end" fill="#141414" font-weight="normal" font-style="normal" >2</text>
<line x1="281.40" y1="405.52" x2="284.60" y2="405.52" stroke="#111" stroke-width="0.9" />
<text x="278.70" y="408.02" font-size="7.6" text-anchor="end" fill="#141414" font-weight="normal" font-style="normal" >4</text>
<line x1="281.40" y1="378.08" x2="284.60" y2="378.08" stroke="#111" stroke-width="0.9" />
<text x="278.70" y="380.58" font-size="7.6" text-anchor="end" fill="#141414" font-weight="normal" font-style="normal" >6</text>
<line x1="281.40" y1="350.64" x2="284.60" y2="350.64" stroke="#111" stroke-width="0.9" />
<text x="278.70" y="353.14" font-size="7.6" text-anchor="end" fill="#141414" font-weight="normal" font-style="normal" >8</text>
<text x="398.65" y="341.70" font-size="9" text-anchor="middle" fill="#222" font-weight="normal" font-style="normal" textLength="73.09999999999997" lengthAdjust="spacingAndGlyphs" >AAV2/8-HCB-ET3</text>
<text transform="translate(267.70,402.70) rotate(-90) scale(0.7009,1)" x="0" y="0" font-size="9.2" word-spacing="1.5" text-anchor="middle" fill="#1a1a1a" stroke="#1a1a1a" stroke-width="0.22">FVIII activity (IU/mL)</text>
<text transform="translate(388.00,485.80) scale(0.5378,1)" x="0" y="0" font-size="10.2" font-weight="bold" word-spacing="2.0" text-anchor="middle" fill="#1a1a1a">Days post AAV delivery</text>
<polyline points="284.60,460.40 291.50,450.80 295.27,449.70 298.83,440.51 302.39,445.31 306.51,441.74 314.48,444.35 319.46,443.66 324.44,445.72 334.40,444.35 344.36,446.54 354.74,442.15 364.28,444.76 384.20,446.68 404.54,449.42 424.03,450.25 427.59,450.11 443.24,453.54 458.18,451.34" fill="none" stroke="#8a7dc4" stroke-width="1.25" stroke-linejoin="miter" stroke-miterlimit="3" />
<polyline points="284.60,460.40 291.50,447.37 295.27,443.94 298.83,428.30 302.39,431.59 306.51,431.31 309.71,427.06 319.17,431.31 323.73,431.59 344.36,422.67 364.28,437.35 384.20,439.00 404.54,430.49 424.03,429.26 442.53,435.70 458.18,438.59" fill="none" stroke="#0d467d" stroke-width="1.25" stroke-linejoin="miter" stroke-miterlimit="3" />
<polyline points="284.60,460.40 291.50,418.28 298.83,395.92 302.39,404.97 306.51,400.03 309.71,425.55 313.77,426.37 319.46,435.98 324.44,431.31 334.40,440.09 344.36,441.47 364.28,431.04 384.20,436.12 404.54,447.23 424.03,439.68 442.53,435.29 458.18,438.59" fill="none" stroke="#c8102e" stroke-width="1.25" stroke-linejoin="miter" stroke-miterlimit="3" />
<polyline points="284.60,460.40 288.16,407.58 292.78,412.38 295.27,419.93 298.83,451.21 302.39,456.97 305.73,455.46 309.21,460.40 483.79,460.40" fill="none" stroke="#27aae1" stroke-width="1.25" stroke-linejoin="miter" stroke-miterlimit="3" />
<line x1="446.20" y1="371.60" x2="461.20" y2="371.60" stroke="#8a7dc4" stroke-width="1.4" />
<text x="463.50" y="374.10" font-size="7.1" text-anchor="start" fill="#141414" font-weight="normal" font-style="normal" textLength="45.8" lengthAdjust="spacingAndGlyphs" >2.22E12 vg/kg</text>
<line x1="446.20" y1="380.55" x2="461.20" y2="380.55" stroke="#0d467d" stroke-width="1.4" />
<text x="463.50" y="383.05" font-size="7.1" text-anchor="start" fill="#141414" font-weight="normal" font-style="normal" textLength="45.8" lengthAdjust="spacingAndGlyphs" >6.67E12 vg/kg</text>
<line x1="446.20" y1="389.50" x2="461.20" y2="389.50" stroke="#c8102e" stroke-width="1.4" />
<text x="463.50" y="392.00" font-size="7.1" text-anchor="start" fill="#141414" font-weight="normal" font-style="normal" textLength="45.8" lengthAdjust="spacingAndGlyphs" >2.00E13 vg/kg</text>
<line x1="446.20" y1="398.45" x2="461.20" y2="398.45" stroke="#27aae1" stroke-width="1.4" />
<text x="463.50" y="400.95" font-size="7.1" text-anchor="start" fill="#141414" font-weight="normal" font-style="normal" textLength="45.8" lengthAdjust="spacingAndGlyphs" >6.00E13 vg/kg</text>
<line x1="29.50" y1="517.20" x2="29.50" y2="636.80" stroke="#111" stroke-width="1.1" />
<line x1="26.50" y1="636.30" x2="258.30" y2="636.30" stroke="#111" stroke-width="1.1" />
<line x1="29.50" y1="636.30" x2="29.50" y2="638.90" stroke="#111" stroke-width="0.9" />
<text x="29.50" y="649.50" font-size="7.6" text-anchor="middle" fill="#141414" font-weight="normal" font-style="normal" >0</text>
<line x1="38.82" y1="636.30" x2="38.82" y2="638.90" stroke="#111" stroke-width="0.9" />
<line x1="48.13" y1="636.30" x2="48.13" y2="638.90" stroke="#111" stroke-width="0.9" />
<text x="48.13" y="649.50" font-size="7.6" text-anchor="middle" fill="#141414" font-weight="normal" font-style="normal" >40</text>
<line x1="57.45" y1="636.30" x2="57.45" y2="638.90" stroke="#111" stroke-width="0.9" />
<line x1="66.76" y1="636.30" x2="66.76" y2="638.90" stroke="#111" stroke-width="0.9" />
<text x="66.76" y="649.50" font-size="7.6" text-anchor="middle" fill="#141414" font-weight="normal" font-style="normal" >80</text>
<line x1="76.08" y1="636.30" x2="76.08" y2="638.90" stroke="#111" stroke-width="0.9" />
<line x1="85.40" y1="636.30" x2="85.40" y2="638.90" stroke="#111" stroke-width="0.9" />
<text x="85.40" y="649.50" font-size="7.6" text-anchor="middle" fill="#141414" font-weight="normal" font-style="normal" >120</text>
<line x1="94.71" y1="636.30" x2="94.71" y2="638.90" stroke="#111" stroke-width="0.9" />
<line x1="104.03" y1="636.30" x2="104.03" y2="638.90" stroke="#111" stroke-width="0.9" />
<text x="104.03" y="649.50" font-size="7.6" text-anchor="middle" fill="#141414" font-weight="normal" font-style="normal" >160</text>
<line x1="113.34" y1="636.30" x2="113.34" y2="638.90" stroke="#111" stroke-width="0.9" />
<line x1="122.66" y1="636.30" x2="122.66" y2="638.90" stroke="#111" stroke-width="0.9" />
<text x="122.66" y="649.50" font-size="7.6" text-anchor="middle" fill="#141414" font-weight="normal" font-style="normal" >200</text>
<line x1="131.98" y1="636.30" x2="131.98" y2="638.90" stroke="#111" stroke-width="0.9" />
<line x1="141.29" y1="636.30" x2="141.29" y2="638.90" stroke="#111" stroke-width="0.9" />
<text x="141.29" y="649.50" font-size="7.6" text-anchor="middle" fill="#141414" font-weight="normal" font-style="normal" >240</text>
<line x1="150.61" y1="636.30" x2="150.61" y2="638.90" stroke="#111" stroke-width="0.9" />
<line x1="159.92" y1="636.30" x2="159.92" y2="638.90" stroke="#111" stroke-width="0.9" />
<text x="159.92" y="649.50" font-size="7.6" text-anchor="middle" fill="#141414" font-weight="normal" font-style="normal" >280</text>
<line x1="169.24" y1="636.30" x2="169.24" y2="638.90" stroke="#111" stroke-width="0.9" />
<line x1="178.56" y1="636.30" x2="178.56" y2="638.90" stroke="#111" stroke-width="0.9" />
<text x="178.56" y="649.50" font-size="7.6" text-anchor="middle" fill="#141414" font-weight="normal" font-style="normal" >320</text>
<line x1="187.87" y1="636.30" x2="187.87" y2="638.90" stroke="#111" stroke-width="0.9" />
<line x1="197.19" y1="636.30" x2="197.19" y2="638.90" stroke="#111" stroke-width="0.9" />
<text x="197.19" y="649.50" font-size="7.6" text-anchor="middle" fill="#141414" font-weight="normal" font-style="normal" >360</text>
<line x1="206.50" y1="636.30" x2="206.50" y2="638.90" stroke="#111" stroke-width="0.9" />
<line x1="215.82" y1="636.30" x2="215.82" y2="638.90" stroke="#111" stroke-width="0.9" />
<text x="215.82" y="649.50" font-size="7.6" text-anchor="middle" fill="#141414" font-weight="normal" font-style="normal" >400</text>
<line x1="225.14" y1="636.30" x2="225.14" y2="638.90" stroke="#111" stroke-width="0.9" />
<line x1="234.45" y1="636.30" x2="234.45" y2="638.90" stroke="#111" stroke-width="0.9" />
<text x="234.45" y="649.50" font-size="7.6" text-anchor="middle" fill="#141414" font-weight="normal" font-style="normal" >440</text>
<line x1="243.77" y1="636.30" x2="243.77" y2="638.90" stroke="#111" stroke-width="0.9" />
<line x1="253.08" y1="636.30" x2="253.08" y2="638.90" stroke="#111" stroke-width="0.9" />
<text x="253.08" y="649.50" font-size="7.6" text-anchor="middle" fill="#141414" font-weight="normal" font-style="normal" >480</text>
<line x1="26.30" y1="636.30" x2="29.50" y2="636.30" stroke="#111" stroke-width="0.9" />
<text x="23.60" y="638.80" font-size="7.6" text-anchor="end" fill="#141414" font-weight="normal" font-style="normal" >0</text>
<line x1="26.30" y1="607.78" x2="29.50" y2="607.78" stroke="#111" stroke-width="0.9" />
<text x="23.60" y="610.28" font-size="7.6" text-anchor="end" fill="#141414" font-weight="normal" font-style="normal" >2</text>
<line x1="26.30" y1="579.26" x2="29.50" y2="579.26" stroke="#111" stroke-width="0.9" />
<text x="23.60" y="581.76" font-size="7.6" text-anchor="end" fill="#141414" font-weight="normal" font-style="normal" >4</text>
<line x1="26.30" y1="550.74" x2="29.50" y2="550.74" stroke="#111" stroke-width="0.9" />
<text x="23.60" y="553.24" font-size="7.6" text-anchor="end" fill="#141414" font-weight="normal" font-style="normal" >6</text>
<line x1="26.30" y1="522.22" x2="29.50" y2="522.22" stroke="#111" stroke-width="0.9" />
<text x="23.60" y="524.72" font-size="7.6" text-anchor="end" fill="#141414" font-weight="normal" font-style="normal" >8</text>
<text x="144.05" y="510.40" font-size="9" text-anchor="middle" fill="#222" font-weight="normal" font-style="normal" textLength="92.7" lengthAdjust="spacingAndGlyphs" >AAV2/8-E06.TTR-HSQ</text>
<text transform="translate(12.90,576.60) rotate(-90) scale(0.7009,1)" x="0" y="0" font-size="9.2" word-spacing="1.5" text-anchor="middle" fill="#1a1a1a" stroke="#1a1a1a" stroke-width="0.22">FVIII activity (IU/mL)</text>
<text transform="translate(144.20,662.30) scale(0.5378,1)" x="0" y="0" font-size="10.2" font-weight="bold" word-spacing="2.0" text-anchor="middle" fill="#1a1a1a">Days post AAV delivery</text>
<polyline points="29.50,636.30 33.83,626.60 42.31,619.19 45.34,619.62 52.32,625.89 55.58,623.18 62.11,623.18 68.91,621.90 75.15,624.61 82.14,622.18 107.75,620.47 120.33,625.32 145.48,624.04 254.02,633.45" fill="none" stroke="#8a7dc4" stroke-width="1.25" stroke-linejoin="miter" stroke-miterlimit="3" />
<polyline points="29.50,636.30 33.83,618.47 36.95,610.77 38.82,600.22 40.68,598.08" fill="none" stroke="#0d467d" stroke-width="1.25" stroke-linejoin="miter" stroke-miterlimit="3" />
<polyline points="29.50,636.30 38.49,584.54 41.14,579.26 42.78,581.26 45.34,579.83 49.20,587.25 52.32,584.96 55.72,573.27 68.91,580.69 75.15,592.95 82.32,586.82 95.18,583.54 107.75,581.83 120.80,600.51 133.37,595.23 146.88,583.11 160.16,608.78 172.97,581.11 238.50,630.60 254.02,633.16" fill="none" stroke="#c8102e" stroke-width="1.25" stroke-linejoin="miter" stroke-miterlimit="3" />
<polyline points="29.50,636.30 36.16,563.15 38.91,561.01 45.34,632.02 48.60,635.16 50.46,636.30 254.02,636.30" fill="none" stroke="#27aae1" stroke-width="1.25" stroke-linejoin="miter" stroke-miterlimit="3" />
<polyline points="29.50,636.30 36.02,634.45 42.78,633.73 49.06,635.87 55.58,635.02 107.75,635.30 145.95,635.73 254.02,636.01" fill="none" stroke="#f7941d" stroke-width="1.25" stroke-linejoin="miter" stroke-miterlimit="3" />
<line x1="173.00" y1="536.00" x2="187.90" y2="536.00" stroke="#f7941d" stroke-width="1.4" />
<text x="189.80" y="538.50" font-size="7.1" text-anchor="start" fill="#141414" font-weight="normal" font-style="normal" textLength="45.8" lengthAdjust="spacingAndGlyphs" >7.40E11 vg/kg</text>
<line x1="173.00" y1="545.08" x2="187.90" y2="545.08" stroke="#8a7dc4" stroke-width="1.4" />
<text x="189.80" y="547.58" font-size="7.1" text-anchor="start" fill="#141414" font-weight="normal" font-style="normal" textLength="45.8" lengthAdjust="spacingAndGlyphs" >2.22E12 vg/kg</text>
<line x1="173.00" y1="554.16" x2="187.90" y2="554.16" stroke="#0d467d" stroke-width="1.4" />
<text x="189.80" y="556.66" font-size="7.1" text-anchor="start" fill="#141414" font-weight="normal" font-style="normal" textLength="45.8" lengthAdjust="spacingAndGlyphs" >6.67E12 vg/kg</text>
<line x1="173.00" y1="563.24" x2="187.90" y2="563.24" stroke="#c8102e" stroke-width="1.4" />
<text x="189.80" y="565.74" font-size="7.1" text-anchor="start" fill="#141414" font-weight="normal" font-style="normal" textLength="45.8" lengthAdjust="spacingAndGlyphs" >2.00E13 vg/kg</text>
<line x1="173.00" y1="572.32" x2="187.90" y2="572.32" stroke="#27aae1" stroke-width="1.4" />
<text x="189.80" y="574.82" font-size="7.1" text-anchor="start" fill="#141414" font-weight="normal" font-style="normal" textLength="45.8" lengthAdjust="spacingAndGlyphs" >6.00E13 vg/kg</text>
<line x1="284.50" y1="516.60" x2="284.50" y2="636.80" stroke="#111" stroke-width="1.1" />
<line x1="281.50" y1="636.30" x2="514.00" y2="636.30" stroke="#111" stroke-width="1.1" />
<line x1="284.50" y1="636.30" x2="284.50" y2="638.90" stroke="#111" stroke-width="0.9" />
<text x="284.50" y="649.10" font-size="7.6" text-anchor="middle" fill="#141414" font-weight="normal" font-style="normal" >0</text>
<line x1="293.71" y1="636.30" x2="293.71" y2="638.90" stroke="#111" stroke-width="0.9" />
<line x1="302.92" y1="636.30" x2="302.92" y2="638.90" stroke="#111" stroke-width="0.9" />
<text x="302.92" y="649.10" font-size="7.6" text-anchor="middle" fill="#141414" font-weight="normal" font-style="normal" >40</text>
<line x1="312.14" y1="636.30" x2="312.14" y2="638.90" stroke="#111" stroke-width="0.9" />
<line x1="321.35" y1="636.30" x2="321.35" y2="638.90" stroke="#111" stroke-width="0.9" />
<text x="321.35" y="649.10" font-size="7.6" text-anchor="middle" fill="#141414" font-weight="normal" font-style="normal" >80</text>
<line x1="330.56" y1="636.30" x2="330.56" y2="638.90" stroke="#111" stroke-width="0.9" />
<line x1="339.77" y1="636.30" x2="339.77" y2="638.90" stroke="#111" stroke-width="0.9" />
<text x="339.77" y="649.10" font-size="7.6" text-anchor="middle" fill="#141414" font-weight="normal" font-style="normal" >120</text>
<line x1="348.98" y1="636.30" x2="348.98" y2="638.90" stroke="#111" stroke-width="0.9" />
<line x1="358.20" y1="636.30" x2="358.20" y2="638.90" stroke="#111" stroke-width="0.9" />
<text x="358.20" y="649.10" font-size="7.6" text-anchor="middle" fill="#141414" font-weight="normal" font-style="normal" >160</text>
<line x1="367.41" y1="636.30" x2="367.41" y2="638.90" stroke="#111" stroke-width="0.9" />
<line x1="376.62" y1="636.30" x2="376.62" y2="638.90" stroke="#111" stroke-width="0.9" />
<text x="376.62" y="649.10" font-size="7.6" text-anchor="middle" fill="#141414" font-weight="normal" font-style="normal" >200</text>
<line x1="385.83" y1="636.30" x2="385.83" y2="638.90" stroke="#111" stroke-width="0.9" />
<line x1="395.04" y1="636.30" x2="395.04" y2="638.90" stroke="#111" stroke-width="0.9" />
<text x="395.04" y="649.10" font-size="7.6" text-anchor="middle" fill="#141414" font-weight="normal" font-style="normal" >240</text>
<line x1="404.26" y1="636.30" x2="404.26" y2="638.90" stroke="#111" stroke-width="0.9" />
<line x1="413.47" y1="636.30" x2="413.47" y2="638.90" stroke="#111" stroke-width="0.9" />
<text x="413.47" y="649.10" font-size="7.6" text-anchor="middle" fill="#141414" font-weight="normal" font-style="normal" >280</text>
<line x1="422.68" y1="636.30" x2="422.68" y2="638.90" stroke="#111" stroke-width="0.9" />
<line x1="431.89" y1="636.30" x2="431.89" y2="638.90" stroke="#111" stroke-width="0.9" />
<text x="431.89" y="649.10" font-size="7.6" text-anchor="middle" fill="#141414" font-weight="normal" font-style="normal" >320</text>
<line x1="441.10" y1="636.30" x2="441.10" y2="638.90" stroke="#111" stroke-width="0.9" />
<line x1="450.32" y1="636.30" x2="450.32" y2="638.90" stroke="#111" stroke-width="0.9" />
<text x="450.32" y="649.10" font-size="7.6" text-anchor="middle" fill="#141414" font-weight="normal" font-style="normal" >360</text>
<line x1="459.53" y1="636.30" x2="459.53" y2="638.90" stroke="#111" stroke-width="0.9" />
<line x1="468.74" y1="636.30" x2="468.74" y2="638.90" stroke="#111" stroke-width="0.9" />
<text x="468.74" y="649.10" font-size="7.6" text-anchor="middle" fill="#141414" font-weight="normal" font-style="normal" >400</text>
<line x1="477.95" y1="636.30" x2="477.95" y2="638.90" stroke="#111" stroke-width="0.9" />
<line x1="487.16" y1="636.30" x2="487.16" y2="638.90" stroke="#111" stroke-width="0.9" />
<text x="487.16" y="649.10" font-size="7.6" text-anchor="middle" fill="#141414" font-weight="normal" font-style="normal" >440</text>
<line x1="496.38" y1="636.30" x2="496.38" y2="638.90" stroke="#111" stroke-width="0.9" />
<line x1="505.59" y1="636.30" x2="505.59" y2="638.90" stroke="#111" stroke-width="0.9" />
<text x="505.59" y="649.10" font-size="7.6" text-anchor="middle" fill="#141414" font-weight="normal" font-style="normal" >480</text>
<line x1="281.30" y1="636.30" x2="284.50" y2="636.30" stroke="#111" stroke-width="0.9" />
<text x="278.60" y="638.80" font-size="7.6" text-anchor="end" fill="#141414" font-weight="normal" font-style="normal" >0</text>
<line x1="281.30" y1="607.78" x2="284.50" y2="607.78" stroke="#111" stroke-width="0.9" />
<text x="278.60" y="610.28" font-size="7.6" text-anchor="end" fill="#141414" font-weight="normal" font-style="normal" >2</text>
<line x1="281.30" y1="579.26" x2="284.50" y2="579.26" stroke="#111" stroke-width="0.9" />
<text x="278.60" y="581.76" font-size="7.6" text-anchor="end" fill="#141414" font-weight="normal" font-style="normal" >4</text>
<line x1="281.30" y1="550.74" x2="284.50" y2="550.74" stroke="#111" stroke-width="0.9" />
<text x="278.60" y="553.24" font-size="7.6" text-anchor="end" fill="#141414" font-weight="normal" font-style="normal" >6</text>
<line x1="281.30" y1="522.22" x2="284.50" y2="522.22" stroke="#111" stroke-width="0.9" />
<text x="278.60" y="524.72" font-size="7.6" text-anchor="end" fill="#141414" font-weight="normal" font-style="normal" >8</text>
<text x="399.00" y="510.60" font-size="9" text-anchor="middle" fill="#222" font-weight="normal" font-style="normal" textLength="78" lengthAdjust="spacingAndGlyphs" >AAV2/8-HCB-HSQ</text>
<text transform="translate(267.70,576.60) rotate(-90) scale(0.7009,1)" x="0" y="0" font-size="9.2" word-spacing="1.5" text-anchor="middle" fill="#1a1a1a" stroke="#1a1a1a" stroke-width="0.22">FVIII activity (IU/mL)</text>
<text transform="translate(398.80,662.20) scale(0.5378,1)" x="0" y="0" font-size="10.2" font-weight="bold" word-spacing="2.0" text-anchor="middle" fill="#1a1a1a">Days post AAV delivery</text>
<polyline points="284.50,636.30 293.25,634.45 330.56,634.59 422.68,634.87 506.97,635.73" fill="none" stroke="#8a7dc4" stroke-width="1.25" stroke-linejoin="miter" stroke-miterlimit="3" />
<polyline points="284.50,636.30 292.79,632.31 300.16,631.31 304.77,633.59 310.29,632.31 319.97,632.02 323.19,631.59 329.18,633.59 335.17,631.31 354.97,631.45 373.86,632.88 400.11,632.88 413.93,634.30 426.83,631.17 445.25,632.02 506.97,636.30" fill="none" stroke="#0d467d" stroke-width="1.25" stroke-linejoin="miter" stroke-miterlimit="3" />
<polyline points="284.50,636.30 287.63,631.17 291.13,627.74 293.44,622.04 295.74,624.18 297.67,623.18 299.47,624.18 304.31,624.04 306.89,622.75 310.43,619.62 316.56,619.47 329.27,625.32 336.82,620.19 361.65,619.47 373.86,624.04 387.90,623.18 400.34,620.61 413.93,623.75 426.83,625.03 489.47,633.88 506.97,632.59" fill="none" stroke="#c8102e" stroke-width="1.25" stroke-linejoin="miter" stroke-miterlimit="3" />
<polyline points="284.50,636.30 286.80,619.76 291.41,608.78 293.25,589.24 296.01,595.37 297.86,594.23 300.62,576.27 303.61,596.66 307.07,598.94 309.83,583.82 316.56,595.37 322.73,584.11 329.64,597.94 335.95,582.68 348.98,577.12 361.65,593.95 373.86,593.95 387.90,587.53 400.34,587.10 413.93,596.66 426.83,600.65 445.02,609.21 489.47,628.31 506.97,626.89" fill="none" stroke="#27aae1" stroke-width="1.25" stroke-linejoin="miter" stroke-miterlimit="3" />
<line x1="446.60" y1="545.90" x2="461.20" y2="545.90" stroke="#8a7dc4" stroke-width="1.4" />
<text x="464.00" y="548.40" font-size="7.1" text-anchor="start" fill="#141414" font-weight="normal" font-style="normal" textLength="45.8" lengthAdjust="spacingAndGlyphs" >2.22E12 vg/kg</text>
<line x1="446.60" y1="554.90" x2="461.20" y2="554.90" stroke="#0d467d" stroke-width="1.4" />
<text x="464.00" y="557.40" font-size="7.1" text-anchor="start" fill="#141414" font-weight="normal" font-style="normal" textLength="45.8" lengthAdjust="spacingAndGlyphs" >6.67E12 vg/kg</text>
<line x1="446.60" y1="563.90" x2="461.20" y2="563.90" stroke="#c8102e" stroke-width="1.4" />
<text x="464.00" y="566.40" font-size="7.1" text-anchor="start" fill="#141414" font-weight="normal" font-style="normal" textLength="45.8" lengthAdjust="spacingAndGlyphs" >2.00E13 vg/kg</text>
<line x1="446.60" y1="572.90" x2="461.20" y2="572.90" stroke="#27aae1" stroke-width="1.4" />
<text x="464.00" y="575.40" font-size="7.1" text-anchor="start" fill="#141414" font-weight="normal" font-style="normal" textLength="45.8" lengthAdjust="spacingAndGlyphs" >6.00E13 vg/kg</text>
<rect x="0.6" y="0.6" width="518.8" height="667.6" fill="none" stroke="#000" stroke-width="1.5"/>
</svg>
</body></html>
